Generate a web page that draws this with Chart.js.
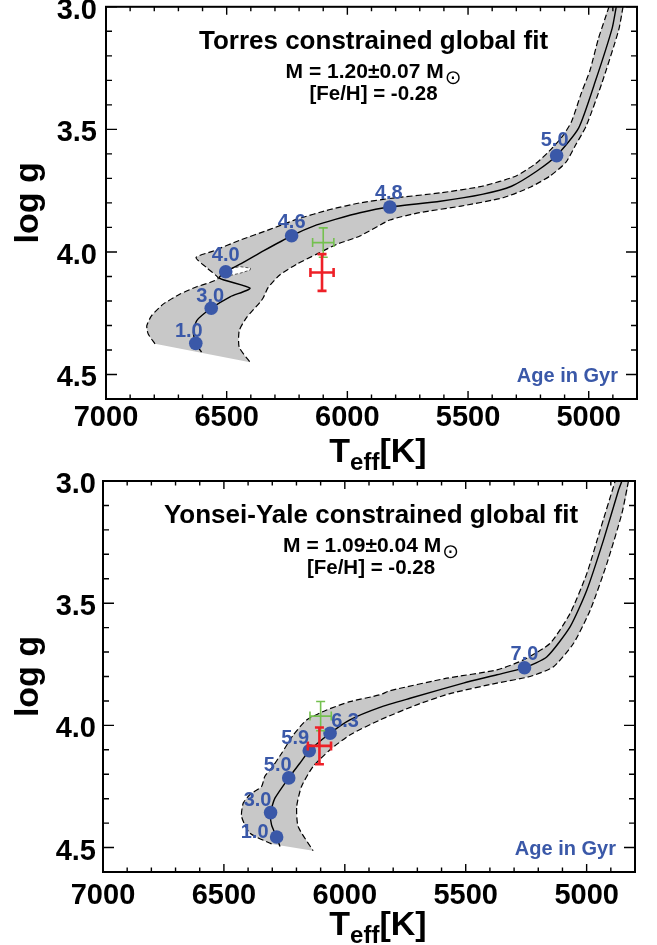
<!DOCTYPE html>
<html>
<head>
<meta charset="utf-8">
<script src="https://cdn.jsdelivr.net/npm/chart.js@4.4.1/dist/chart.umd.min.js"></script>
<style>
html,body{margin:0;padding:0;background:#fff;}
body{width:657px;height:945px;position:relative;overflow:hidden;}
.wrap{position:absolute;left:0;width:657px;}
</style>
</head>
<body>
<div class="wrap" style="top:0;height:476px"><canvas id="c1"></canvas></div>
<div class="wrap" style="top:468px;height:477px"><canvas id="c2"></canvas></div>
<script>
// ================= DATA =================
// Torres constrained global fit (top panel)
const torresTrackT = [6604, 6628, 6638, 6624, 6564, 6486, 6403, 6531, 6504, 6431, 6348, 6231, 6127, 6050, 5948, 5824, 5615, 5442, 5320, 5216, 5133, 5042, 4973, 4903, 4886];
const torresTrackG = [4.409, 4.373, 4.328, 4.280, 4.230, 4.183, 4.148, 4.107, 4.081, 4.043, 3.996, 3.934, 3.890, 3.867, 3.840, 3.817, 3.793, 3.765, 3.732, 3.671, 3.607, 3.495, 3.305, 3.088, 3.0];
const torresAgeLabels = ['1.0', '3.0', '4.0', '4.6', '4.8', '5.0'];
const torresAgeT = [6628, 6564, 6504, 6231, 5824, 5133];
const torresAgeG = [4.373, 4.230, 4.081, 3.934, 3.817, 3.607];
// band outline: left edge of the lower lobe (bottom-left corner -> upper corner)
const torresBandLeftT = [6797, 6825, 6831, 6811, 6763, 6693, 6624, 6570, 6535, 6583];
const torresBandLeftG = [4.375, 4.335, 4.301, 4.260, 4.213, 4.172, 4.142, 4.125, 4.107, 4.064];
// band upper / hot edge (corner -> top of plot)
const torresBandUpperT = [6627, 6555, 6445, 6321, 6210, 6072, 5948, 5824, 5615, 5442, 5303, 5220, 5165, 5110, 5072, 5030, 4995, 4960, 4933, 4916];
const torresBandUpperG = [4.023, 3.996, 3.952, 3.908, 3.867, 3.827, 3.800, 3.782, 3.759, 3.732, 3.691, 3.640, 3.590, 3.530, 3.470, 3.350, 3.260, 3.130, 3.050, 3.0];
// band lower / cool edge (top of plot -> bottom-right corner)
const torresBandLowerT = [4858, 4876, 4945, 5010, 5055, 5095, 5160, 5240, 5355, 5529, 5702, 5824, 5948, 6044, 6127, 6210, 6279, 6328, 6348, 6362, 6417, 6448, 6448, 6403];
const torresBandLowerG = [3.0, 3.095, 3.310, 3.485, 3.565, 3.635, 3.690, 3.735, 3.779, 3.813, 3.840, 3.870, 3.935, 3.969, 4.009, 4.050, 4.093, 4.145, 4.186, 4.206, 4.267, 4.321, 4.389, 4.450];
// small white notch inside the band near the 4.0 Gyr point
const torresNotchT = [6486, 6445, 6403, 6401, 6445, 6486, 6498];
const torresNotchG = [4.096, 4.087, 4.074, 4.066, 4.060, 4.068, 4.080];

// Yonsei-Yale constrained global fit (bottom panel)
const yyTrackT = [6268, 6282, 6303, 6307, 6289, 6232, 6186, 6147, 6061, 5979, 5855, 5730, 5510, 5371, 5257, 5164, 5068, 4999, 4930, 4868, 4854];
const yyTrackG = [4.496, 4.457, 4.407, 4.357, 4.298, 4.215, 4.155, 4.104, 4.032, 3.977, 3.926, 3.889, 3.827, 3.793, 3.764, 3.719, 3.596, 3.446, 3.241, 3.037, 3.0];
const yyAgeLabels = ['1.0', '3.0', '5.0', '5.9', '6.3', '7.0'];
const yyAgeT = [6282, 6307, 6232, 6147, 6061, 5257];
const yyAgeG = [4.457, 4.357, 4.215, 4.104, 4.032, 3.764];
// left / upper edge (bottom-left corner -> top of plot)
const yyBandUpperT = [6303, 6393, 6427, 6420, 6393, 6344, 6331, 6303, 6261, 6213, 6158, 6075, 5979, 5855, 5813, 5578, 5371, 5261, 5151, 5068, 4999, 4944, 4889, 4882];
const yyBandUpperG = [4.485, 4.441, 4.373, 4.318, 4.284, 4.250, 4.209, 4.175, 4.114, 4.039, 3.978, 3.937, 3.903, 3.875, 3.858, 3.807, 3.773, 3.732, 3.664, 3.541, 3.378, 3.200, 3.023, 3.0];
// right / lower edge (top of plot -> bottom-right corner)
const yyBandLowerT = [4827, 4854, 4916, 4985, 5054, 5137, 5234, 5371, 5565, 5700, 5855, 5979, 6061, 6131, 6179, 6199, 6193, 6131];
const yyBandLowerG = [3.0, 3.132, 3.337, 3.528, 3.664, 3.760, 3.800, 3.827, 3.870, 3.915, 3.978, 4.039, 4.100, 4.168, 4.250, 4.332, 4.414, 4.513];

// Observed star (same in both panels): green then red cross
const obsT = [6100, 6105];
const obsTErr = [44, 48];
const obsG = [3.962, 4.084];
const obsGErr = [0.060, 0.075];

// Axis ranges / tick labels
const teffRange = [4800, 7000];
const loggRange = [3.0, 4.6];
const teffTicks = [7000, 6500, 6000, 5500, 5000];
const loggTicks = [3.0, 3.5, 4.0, 4.5];
const teffMinor = 100;
const loggMinor = 0.1;

// ================= STYLE =================
const FONT = '"Liberation Sans", Arial, Helvetica, sans-serif';
const BLUE = '#3a58a8';
const GRAY = '#c8c8c8';
const obsColor = ['#74c04f', '#ee2027'];
const obsWidth = [1.6, 2.6];

function pts(T, G) { return T.map((t, i) => ({x: t, y: G[i]})); }

function makeDecor(p) {
  return {
    id: 'decor' + p.id,
    afterDraw(chart) {
      const ctx = chart.ctx, a = chart.chartArea;
      const xs = chart.scales.x, ys = chart.scales.y;
      ctx.save();
      // error bars
      obsT.forEach((t, i) => {
        const cx = xs.getPixelForValue(t), cy = ys.getPixelForValue(obsG[i]);
        const x1 = xs.getPixelForValue(t + obsTErr[i]), x2 = xs.getPixelForValue(t - obsTErr[i]);
        const y1 = ys.getPixelForValue(obsG[i] - obsGErr[i]), y2 = ys.getPixelForValue(obsG[i] + obsGErr[i]);
        const cap = 4.5;
        ctx.strokeStyle = obsColor[i];
        ctx.lineWidth = obsWidth[i];
        ctx.setLineDash([]);
        ctx.beginPath();
        ctx.moveTo(x1, cy); ctx.lineTo(x2, cy);
        ctx.moveTo(cx, y1); ctx.lineTo(cx, y2);
        ctx.moveTo(x1, cy - cap); ctx.lineTo(x1, cy + cap);
        ctx.moveTo(x2, cy - cap); ctx.lineTo(x2, cy + cap);
        ctx.moveTo(cx - cap, y1); ctx.lineTo(cx + cap, y1);
        ctx.moveTo(cx - cap, y2); ctx.lineTo(cx + cap, y2);
        ctx.stroke();
      });
      // age labels next to the dots
      const meta = chart.getDatasetMeta(0);
      ctx.fillStyle = BLUE;
      ctx.font = 'bold 20px ' + FONT;
      ctx.textAlign = 'center';
      ctx.textBaseline = 'middle';
      meta.data.forEach((el, i) => {
        const off = p.labelOffsets[i];
        ctx.fillText(p.ageLabels[i], el.x + off[0], el.y + off[1] + 1);
      });
      // frame
      ctx.strokeStyle = '#000';
      ctx.lineWidth = 2;
      ctx.strokeRect(a.left, a.top, a.right - a.left, a.bottom - a.top);
      // inward ticks on all four sides
      ctx.lineWidth = 1.4;
      ctx.beginPath();
      const nX = Math.round((teffRange[1] - teffRange[0]) / teffMinor);
      for (let k = 0; k <= nX; k++) {
        const t = teffRange[0] + k * teffMinor;
        const px = xs.getPixelForValue(t);
        const L = teffTicks.includes(t) ? 8 : 4.5;
        ctx.moveTo(px, a.bottom); ctx.lineTo(px, a.bottom - L);
        ctx.moveTo(px, a.top); ctx.lineTo(px, a.top + L);
      }
      const nY = Math.round((loggRange[1] - loggRange[0]) / loggMinor);
      for (let k = 0; k <= nY; k++) {
        const g = loggRange[0] + k * loggMinor;
        const py = ys.getPixelForValue(g);
        const L = (k % 5 === 0) ? 11 : 6;
        ctx.moveTo(a.left, py); ctx.lineTo(a.left + L, py);
        ctx.moveTo(a.right, py); ctx.lineTo(a.right - L, py);
      }
      ctx.stroke();
      // texts inside plot
      const cx = (a.left + a.right) / 2 + 2;
      ctx.fillStyle = '#000';
      ctx.textBaseline = 'alphabetic';
      ctx.textAlign = 'center';
      ctx.font = 'bold 26px ' + FONT;
      ctx.fillText(p.title, cx, a.top + 42);
      // mass line with solar symbol
      ctx.font = 'bold 21px ' + FONT;
      const w1 = ctx.measureText(p.massText).width;
      ctx.font = '20px "DejaVu Sans", sans-serif';
      const w2 = ctx.measureText('\u2299').width;
      const x0 = cx - (w1 + w2 + 1) / 2;
      ctx.textAlign = 'left';
      ctx.font = 'bold 21px ' + FONT;
      ctx.fillText(p.massText, x0, a.top + 71);
      ctx.font = '20px "DejaVu Sans", sans-serif';
      ctx.fillText('\u2299', x0 + w1 + 1, a.top + 77);
      ctx.textAlign = 'center';
      ctx.font = 'bold 20.5px ' + FONT;
      ctx.fillText(p.fehText, cx, a.top + 93);
      // Age in Gyr
      ctx.fillStyle = BLUE;
      ctx.textAlign = 'right';
      ctx.font = 'bold 20px ' + FONT;
      ctx.fillText('Age in Gyr', a.right - 19, a.bottom - 17);
      // x-axis title T_eff[K]
      ctx.fillStyle = '#000';
      ctx.textAlign = 'left';
      ctx.font = 'bold 34px ' + FONT;
      const wT = ctx.measureText('T').width, wK = ctx.measureText('[K]').width;
      ctx.font = 'bold 24px ' + FONT;
      const wE = ctx.measureText('eff').width;
      const tx = 378 - (wT + wE + wK) / 2;
      const ty = a.bottom + 63;
      ctx.font = 'bold 34px ' + FONT;
      ctx.fillText('T', tx, ty);
      ctx.font = 'bold 24px ' + FONT;
      ctx.fillText('eff', tx + wT, ty + 8);
      ctx.font = 'bold 34px ' + FONT;
      ctx.fillText('[K]', tx + wT + wE, ty);
      ctx.restore();
    }
  };
}

function makePanel(canvasId, p) {
  const leftUpper = pts(p.leftT.concat(p.upperT), p.leftG.concat(p.upperG));
  const lower = pts(p.lowerT, p.lowerG);
  const polygon = leftUpper.concat(lower);
  const datasets = [
    {data: pts(p.ageT, p.ageG), showLine: false, pointRadius: 6.8, pointHoverRadius: 6.8,
     pointBackgroundColor: BLUE, pointBorderWidth: 0, fill: false},
    {data: pts(p.trackT, p.trackG), borderColor: '#000', borderWidth: 1.4, pointRadius: 0, fill: false, tension: 0.2},
    {data: leftUpper, borderColor: '#000', borderWidth: 1.2, borderDash: [6, 3], pointRadius: 0, fill: false, tension: 0.2},
    {data: lower, borderColor: '#000', borderWidth: 1.2, borderDash: [6, 3], pointRadius: 0, fill: false, tension: 0.2}
  ];
  if (p.notchT) {
    const notch = pts(p.notchT, p.notchG);
    notch.push({x: p.notchT[0], y: p.notchG[0]});
    datasets.push({data: notch, borderColor: '#333', borderWidth: 0.8, borderDash: [3, 2], pointRadius: 0,
                   backgroundColor: '#ffffff', fill: 'shape', tension: 0});
  }
  datasets.push({data: polygon, borderWidth: 0, borderColor: 'rgba(0,0,0,0)', pointRadius: 0,
                 backgroundColor: GRAY, fill: 'shape', tension: 0.2});

  const tickFont = {family: FONT, size: 29, weight: 'bold'};
  return new Chart(document.getElementById(canvasId), {
    type: 'line',
    data: {datasets},
    options: {
      responsive: true,
      maintainAspectRatio: false,
      animation: false,
      events: [],
      layout: {padding: {top: p.padTop, right: p.padRight, left: 0, bottom: 0}},
      plugins: {legend: {display: false}, tooltip: {enabled: false}},
      scales: {
        x: {
          type: 'linear', reverse: true, min: teffRange[0], max: teffRange[1],
          grid: {display: false, drawTicks: false}, border: {display: false},
          ticks: {autoSkip: false, maxRotation: 0,
                  padding: p.xPad, color: '#000', font: tickFont, callback: v => String(v)},
          afterBuildTicks(s) { s.ticks = teffTicks.map(v => ({value: v})); },
          afterFit(s) { s.height = p.xHeight; s.paddingLeft = 0; s.paddingRight = 0; }
        },
        y: {
          type: 'linear', reverse: true, min: loggRange[0], max: loggRange[1],
          grid: {display: false, drawTicks: false}, border: {display: false},
          ticks: {autoSkip: false,
                  padding: p.yPad, labelOffset: 4, color: '#000', font: tickFont,
                  callback: v => Number(v).toFixed(1)},
          afterBuildTicks(s) { s.ticks = loggTicks.map(v => ({value: v})); },
          title: {display: true, text: 'log g', color: '#000',
                  font: {family: FONT, size: 34, weight: 'bold'}, padding: {top: 8, bottom: 0}},
          afterFit(s) { s.width = p.yWidth; s.paddingTop = 0; s.paddingBottom = 0; }
        }
      }
    },
    plugins: [makeDecor(p)]
  });
}

makePanel('c1', {
  id: 1,
  trackT: torresTrackT, trackG: torresTrackG,
  ageT: torresAgeT, ageG: torresAgeG, ageLabels: torresAgeLabels,
  labelOffsets: [[-7, -13], [-1, -13], [0, -17], [0, -14], [-1, -15], [-2, -16]],
  leftT: torresBandLeftT, leftG: torresBandLeftG,
  upperT: torresBandUpperT, upperG: torresBandUpperG,
  lowerT: torresBandLowerT, lowerG: torresBandLowerG,
  notchT: torresNotchT, notchG: torresNotchG,
  title: 'Torres constrained global fit',
  massText: 'M = 1.20\u00b10.07 M',
  fehText: '[Fe/H] = -0.28',
  padTop: 5, padRight: 20, yWidth: 106, xHeight: 77, xPad: 2, yPad: 9
});

makePanel('c2', {
  id: 2,
  trackT: yyTrackT, trackG: yyTrackG,
  ageT: yyAgeT, ageG: yyAgeG, ageLabels: yyAgeLabels,
  labelOffsets: [[-22, -6], [-13, -13], [-11, -13], [-14, -13], [15, -13], [0, -14]],
  leftT: [], leftG: [],
  upperT: yyBandUpperT, upperG: yyBandUpperG,
  lowerT: yyBandLowerT, lowerG: yyBandLowerG,
  notchT: null,
  title: 'Yonsei-Yale constrained global fit',
  massText: 'M = 1.09\u00b10.04 M',
  fehText: '[Fe/H] = -0.28',
  padTop: 13, padRight: 22, yWidth: 103, xHeight: 73, xPad: 7, yPad: 7
});
</script>
</body>
</html>
